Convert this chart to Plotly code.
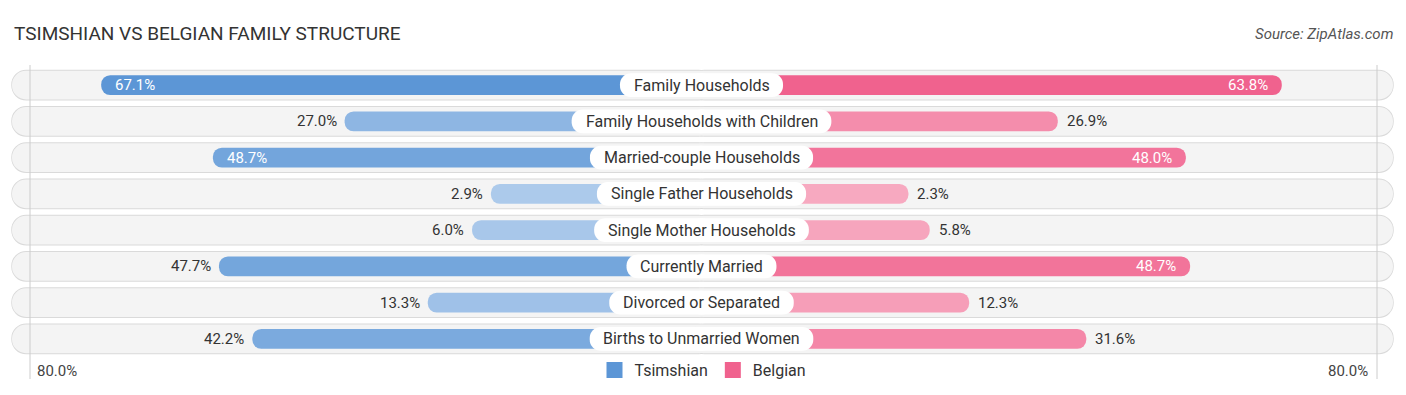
import plotly.graph_objects as go

# ---------------- data ----------------
categories = [
    "Family Households",
    "Family Households with Children",
    "Married-couple Households",
    "Single Father Households",
    "Single Mother Households",
    "Currently Married",
    "Divorced or Separated",
    "Births to Unmarried Women",
]
tsimshian = [67.1, 27.0, 48.7, 2.9, 6.0, 47.7, 13.3, 42.2]
belgian = [63.8, 26.9, 48.0, 2.3, 5.8, 48.7, 12.3, 31.6]
series_names = ["Tsimshian", "Belgian"]
axis_label = "80.0%"
title_text = "TSIMSHIAN VS BELGIAN FAMILY STRUCTURE"
source_text = "Source: ZipAtlas.com"

# ---------------- layout constants ----------------
W, H = 1406, 395
M_T, M_B = 67, 38
PLOT_H = H - M_T - M_B
PX = 6.07          # pixels per percentage point
CX = 701.5         # pixel position of the centre line
OFF = 193 / PX     # width of the central label zone (in % units)
X_LO = -CX / PX
X_HI = (W - CX) / PX
OV = 2.0           # overlap of the two halves of a rounded box (in % units)
FONT = "Roboto"

BLUE_DARK, BLUE_LIGHT = (92, 150, 214), (176, 204, 236)
PINK_DARK, PINK_LIGHT = (240, 98, 142), (247, 172, 194)


def mix(light, dark, t):
    t = max(0.0, min(1.0, t))
    return "rgb(%d,%d,%d)" % tuple(round(l + (d - l) * t) for l, d in zip(light, dark))


ROBOTO = {
    " ": .248, "-": .276, ".": .263, "%": .733,
    "A": .652, "B": .622, "C": .652, "D": .656, "E": .568, "F": .553, "G": .683,
    "H": .713, "I": .272, "J": .552, "K": .627, "L": .538, "M": .873, "N": .713,
    "O": .688, "P": .631, "Q": .688, "R": .616, "S": .593, "T": .597, "U": .648,
    "V": .636, "W": .887, "X": .627, "Y": .601, "Z": .599,
    "a": .544, "b": .561, "c": .523, "d": .564, "e": .530, "f": .347, "g": .561,
    "h": .551, "i": .243, "j": .239, "k": .507, "l": .243, "m": .876, "n": .552,
    "o": .570, "p": .561, "q": .568, "r": .338, "s": .516, "t": .327, "u": .551,
    "v": .484, "w": .751, "x": .496, "y": .473, "z": .496,
}


def text_px(s, size):
    return sum(ROBOTO.get(ch, .55) for ch in s) * size


def py(ypx):
    return (H - M_B - ypx) / PLOT_H


rows = list(range(len(categories)))
n = len(rows)
fig = go.Figure()


def rounded_box(ends, width, color, radius):
    """Two overlapping halves, each rounded at its far end."""
    left_end, right_end = ends
    fig.add_trace(go.Bar(
        y=rows, x=[l - OV for l in left_end], base=OV, orientation="h", width=width,
        marker=dict(color=color, cornerradius=radius, line=dict(width=0)),
        showlegend=False, hoverinfo="skip"))
    fig.add_trace(go.Bar(
        y=rows, x=[r + OV for r in right_end], base=-OV, orientation="h", width=width,
        marker=dict(color=color, cornerradius=radius, line=dict(width=0)),
        showlegend=False, hoverinfo="skip"))


# background pills (shadow + face)
pill_l = -(CX - 12) / PX
pill_r = (1393 - CX) / PX
rounded_box(([pill_l - 0.12] * n, [pill_r + 0.12] * n), 0.85, "#dadada", 16)
rounded_box(([pill_l] * n, [pill_r] * n), 0.79, "#f4f4f4", 14)

max_t = max(tsimshian)
max_b = max(belgian)
# Tsimshian (left)
fig.add_trace(go.Bar(
    y=rows, x=[-(OFF + v) for v in tsimshian], base=0, orientation="h", width=0.55,
    marker=dict(color=[mix(BLUE_LIGHT, BLUE_DARK, v / max_t) for v in tsimshian],
                cornerradius=10, line=dict(width=0)),
    customdata=tsimshian, hovertemplate="%{customdata:.1f}%<extra>Tsimshian</extra>",
    showlegend=False))
# Belgian (right)
fig.add_trace(go.Bar(
    y=rows, x=[OFF + v for v in belgian], base=0, orientation="h", width=0.55,
    marker=dict(color=[mix(PINK_LIGHT, PINK_DARK, v / max_b) for v in belgian],
                cornerradius=10, line=dict(width=0)),
    customdata=belgian, hovertemplate="%{customdata:.1f}%<extra>Belgian</extra>",
    showlegend=False))

# white label boxes
half_w = [(text_px(c, 16) + 27) / 2 / PX for c in categories]
rounded_box(([-h for h in half_w], half_w), 0.66, "#ffffff", 12)

# legend entries
fig.add_trace(go.Scatter(x=[None], y=[None], mode="markers", name=series_names[0],
                         marker=dict(symbol="square", size=16, color="rgb(%d,%d,%d)" % BLUE_DARK)))
fig.add_trace(go.Scatter(x=[None], y=[None], mode="markers", name=series_names[1],
                         marker=dict(symbol="square", size=16, color="rgb(%d,%d,%d)" % PINK_DARK)))

ann = []
INSIDE = 48.0
for i, (c, a, b) in enumerate(zip(categories, tsimshian, belgian)):
    ann.append(dict(x=0, y=i, text=c, showarrow=False, xanchor="center", yanchor="middle",
                    font=dict(family=FONT, size=16, color="#333333")))
    if a >= INSIDE:
        ann.append(dict(x=-(OFF + a), y=i, text=f"{a:.1f}%", showarrow=False, xanchor="left",
                        xshift=12, font=dict(family=FONT, size=15, color="#ffffff")))
    else:
        ann.append(dict(x=-(OFF + a), y=i, text=f"{a:.1f}%", showarrow=False, xanchor="right",
                        xshift=-6, font=dict(family=FONT, size=15, color="#333333")))
    if b >= INSIDE:
        ann.append(dict(x=OFF + b, y=i, text=f"{b:.1f}%", showarrow=False, xanchor="right",
                        xshift=-12, font=dict(family=FONT, size=15, color="#ffffff")))
    else:
        ann.append(dict(x=OFF + b, y=i, text=f"{b:.1f}%", showarrow=False, xanchor="left",
                        xshift=7, font=dict(family=FONT, size=15, color="#333333")))

grid_l = (30 - CX) / PX
grid_r = (1377 - CX) / PX
ann.append(dict(x=grid_l, y=py(371), yref="paper", text=axis_label, showarrow=False,
                xanchor="left", xshift=5, yanchor="middle",
                font=dict(family=FONT, size=15, color="#444444")))
ann.append(dict(x=grid_r, y=py(371), yref="paper", text=axis_label, showarrow=False,
                xanchor="right", xshift=-7, yanchor="middle",
                font=dict(family=FONT, size=15, color="#444444")))
ann.append(dict(x=12 / W, y=py(33), xref="paper", yref="paper", text=title_text, showarrow=False,
                xanchor="left", yanchor="middle", font=dict(family=FONT, size=19, color="#333333")))
ann.append(dict(x=1395 / W, y=py(34), xref="paper", yref="paper", text=f"<i>{source_text}</i>",
                showarrow=False, xanchor="right", yanchor="middle",
                font=dict(family=FONT, size=15, color="#555555")))

shapes = [
    dict(type="line", x0=g, x1=g, xref="x", yref="paper", y0=py(379), y1=py(65),
         line=dict(color="#cccccc", width=1), layer="above")
    for g in (grid_l, grid_r)
]

fig.update_layout(
    width=W, height=H,
    margin=dict(l=0, r=0, t=M_T, b=M_B),
    barmode="overlay",
    paper_bgcolor="#ffffff", plot_bgcolor="#ffffff",
    xaxis=dict(range=[X_LO, X_HI], visible=False, fixedrange=True),
    yaxis=dict(range=[len(categories) - 0.5, -0.5], visible=False, fixedrange=True),
    annotations=ann, shapes=shapes,
    showlegend=True,
    legend=dict(orientation="h", x=0.5, xanchor="center", y=py(370), yanchor="middle",
                font=dict(family=FONT, size=16, color="#333333"), bgcolor="rgba(0,0,0,0)",
                itemclick=False, itemdoubleclick=False),
    font=dict(family=FONT),
)

fig.write_html("out.html",
               config={"displayModeBar": False},
               post_script="document.body.style.margin='0';document.body.style.overflow='hidden';")
